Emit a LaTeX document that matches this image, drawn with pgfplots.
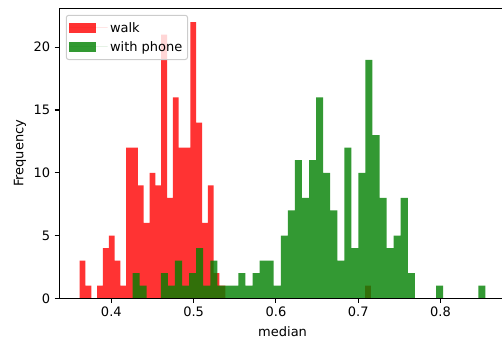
\documentclass[border=0pt]{standalone}
\usepackage{fontspec}
\setmainfont{DejaVu Sans}
\usepackage{pgfplots}
\pgfplotsset{compat=1.18}
\newcommand\fs{\fontsize{13}{15.6}\selectfont}
\definecolor{mred}{RGB}{255,0,0}
\definecolor{mgreen}{RGB}{0,128,0}
\begin{document}
\begin{tikzpicture}
\begin{axis}[
  name=ax, at={(0,0)}, anchor=south west,
  scale only axis, width=446.6pt, height=290pt,
  xmin=0.3368, xmax=0.8794, ymin=0, ymax=23.1,
  xtick={0.4,0.5,0.6,0.7,0.8}, ytick={0,5,10,15,20},
  xticklabel style={/pgf/number format/fixed,/pgf/number format/precision=1,/pgf/number format/fixed zerofill},
  /pgf/number format/assume math mode=true,
  tick label style={font=\fs, black},
  yticklabel style={xshift=-1pt},
  label style={font=\fs},
  tick align=outside, major tick length=4.6pt,
  xtick pos=bottom, ytick pos=left,
  axis line style={line width=1.05pt, black},
  tick style={line width=1.05pt, black},
  axis on top,
  xlabel={median}, ylabel={Frequency},
  xlabel style={at={(axis description cs:0.5,-0.1152)}, anchor=center},
  ylabel style={at={(axis description cs:-0.088,0.5)}, anchor=center},
  legend style={at={(0.01455,0.9776)}, anchor=north west, font=\fs,
    draw=black!20, line width=1pt, rounded corners=2.5pt, fill=white, fill opacity=0.8, text opacity=1,
    inner xsep=2.7pt, inner ysep=4.5pt, row sep=2.5pt,
    nodes={inner sep=2.5pt}},
  legend cell align=left,
  legend image code/.code={\path[#1, draw=none, sharp corners] (0pt,-5pt) rectangle (26.7pt,5pt); \path (0pt,0pt) -- (38.5pt,0pt);},
]
\addplot[ybar interval, fill=mred, fill opacity=0.8, draw=none] table {
x y
0.3615 3
0.3686 1
0.3757 0
0.3827 1
0.3898 4
0.3969 5
0.4040 3
0.4110 1
0.4181 12
0.4252 12
0.4323 9
0.4394 6
0.4464 10
0.4535 9
0.4606 21
0.4677 8
0.4748 16
0.4818 12
0.4889 12
0.4960 22
0.5031 14
0.5102 6
0.5172 9
0.5243 2
0.5314 1
0.5385 0
0.7084 1
0.7154 1
};
\addlegendentry{walk}
\addplot[ybar interval, fill=mgreen, fill opacity=0.8, draw=none] table {
x y
0.4259 2
0.4345 1
0.4430 0
0.4516 0
0.4602 2
0.4688 1
0.4773 3
0.4859 1
0.4945 2
0.5030 4
0.5116 1
0.5202 3
0.5288 1
0.5373 1
0.5459 1
0.5545 2
0.5630 1
0.5716 2
0.5802 3
0.5887 3
0.5973 1
0.6059 5
0.6145 7
0.6230 11
0.6316 8
0.6402 11
0.6487 16
0.6573 10
0.6659 7
0.6745 3
0.6830 12
0.6916 4
0.7002 10
0.7087 19
0.7173 13
0.7259 8
0.7345 4
0.7430 5
0.7516 8
0.7602 2
0.7687 0
0.7945 1
0.8030 0
0.8459 1
0.8545 1
};
\addlegendentry{with phone}
\end{axis}
\pgfresetboundingbox
\path[use as bounding box] (-59.3pt,-41.7pt) rectangle (442.7pt,298.3pt);
\end{tikzpicture}
\end{document}
